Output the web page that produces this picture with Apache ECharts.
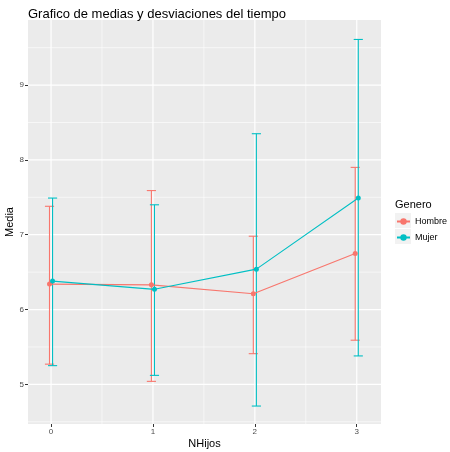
<!DOCTYPE html>
<html lang="es">
<head>
    <meta charset="utf-8">
    <title>Grafico de medias y desviaciones del tiempo</title>
    <script src="https://cdn.jsdelivr.net/npm/echarts@6.0.0/dist/echarts.min.js"></script>
    <style>
        html, body { margin: 0; padding: 0; background: #fff; }
        #main { width: 450px; height: 452px; }
    </style>
</head>
<body>
<div id="main"></div>
<script type="text/javascript">
// datos
var nhijos = [0, 1, 2, 3];
var hombreMedia = [6.34, 6.33, 6.21, 6.75];
var hombreInf   = [5.27, 5.04, 5.41, 5.59];
var hombreSup   = [7.38, 7.59, 6.98, 7.90];
var mujerMedia  = [6.38, 6.27, 6.54, 7.49];
var mujerInf    = [5.25, 5.12, 4.71, 5.38];
var mujerSup    = [7.49, 7.40, 8.35, 9.61];

var xTicks = [0, 1, 2, 3];
var yTicks = [5, 6, 7, 8, 9];
var xMinor = [0.5, 1.5, 2.5];
var yMinor = [4.5, 5.5, 6.5, 7.5, 8.5, 9.5];

var colHombre = '#F8766D';
var colMujer = '#00BFC4';
var dodge = 0.015;
var capWidth = 0.09;
var font = 'Liberation Sans';

var chart = echarts.init(document.getElementById('main'));

function pts(media, off) {
    return nhijos.map(function (x, i) { return [x + off, media[i]]; });
}
function bars(lo, hi, off) {
    return nhijos.map(function (x, i) { return [x + off, lo[i], hi[i]]; });
}

function errorBar(color) {
    return function (params, api) {
        var x = api.value(0);
        var lo = api.coord([x, api.value(1)]);
        var hi = api.coord([x, api.value(2)]);
        var half = api.size([capWidth, 0])[0] / 2;
        var style = { stroke: color, lineWidth: 1.1 };
        return {
            type: 'group',
            children: [
                { type: 'line', shape: { x1: lo[0], y1: lo[1], x2: hi[0], y2: hi[1] }, style: style },
                { type: 'line', shape: { x1: lo[0] - half, y1: lo[1], x2: lo[0] + half, y2: lo[1] }, style: style },
                { type: 'line', shape: { x1: hi[0] - half, y1: hi[1], x2: hi[0] + half, y2: hi[1] }, style: style }
            ]
        };
    };
}

function vLines(width) {
    return function (params, api) {
        var cs = params.coordSys;
        var p = api.coord([api.value(0), api.value(1)]);
        return { type: 'line', silent: true,
            shape: { x1: p[0], y1: cs.y, x2: p[0], y2: cs.y + cs.height },
            style: { stroke: '#FFFFFF', lineWidth: width } };
    };
}
function hLines(width) {
    return function (params, api) {
        var cs = params.coordSys;
        var p = api.coord([api.value(0), api.value(1)]);
        return { type: 'line', silent: true,
            shape: { x1: cs.x, y1: p[1], x2: cs.x + cs.width, y2: p[1] },
            style: { stroke: '#FFFFFF', lineWidth: width } };
    };
}

var option = {
    animation: false,
    textStyle: { fontFamily: font },
    title: [
        {
            text: 'Grafico de medias y desviaciones del tiempo',
            left: 23, top: 3,
            textStyle: { fontSize: 13, fontWeight: 'normal', color: '#000', fontFamily: font }
        },
        {
            text: 'Genero',
            left: 390, top: 194,
            textStyle: { fontSize: 11, fontWeight: 'normal', color: '#000', fontFamily: font }
        }
    ],
    grid: {
        left: 28, right: 69, top: 20, bottom: 28,
        outerBoundsMode: 'none',
        containLabel: false,
        show: true, backgroundColor: '#EBEBEB', borderWidth: 0
    },
    legend: {
        data: ['Hombre', 'Mujer'],
        orient: 'vertical',
        left: 396, top: 217,
        padding: 0,
        itemWidth: 13, itemHeight: 8, itemGap: 7,
        textStyle: { fontSize: 9, color: '#000', fontFamily: font }
    },
    graphic: [
        { type: 'rect', left: 395, top: 213, shape: { width: 16, height: 15 }, style: { fill: '#F2F2F2' }, z: 0 },
        { type: 'rect', left: 395, top: 229, shape: { width: 16, height: 15 }, style: { fill: '#F2F2F2' }, z: 0 }
    ],
    xAxis: {
        type: 'value',
        min: -0.226, max: 3.238,
        name: 'NHijos',
        nameLocation: 'middle',
        nameGap: 14,
        nameMoveOverlap: false,
        nameTextStyle: { fontSize: 11, color: '#000' },
        axisLine: { show: false, onZero: false },
        splitLine: { show: false },
        axisTick: { show: true, customValues: xTicks, length: 3, lineStyle: { color: '#333' } },
        axisLabel: { customValues: xTicks, fontSize: 8, color: '#4D4D4D', margin: 4 }
    },
    yAxis: {
        type: 'value',
        min: 4.47, max: 9.87,
        name: 'Media',
        nameLocation: 'middle',
        nameGap: 13,
        nameMoveOverlap: false,
        nameTextStyle: { fontSize: 11, color: '#000' },
        axisLine: { show: false, onZero: false },
        splitLine: { show: false },
        axisTick: { show: true, customValues: yTicks, length: 3, lineStyle: { color: '#333' } },
        axisLabel: { customValues: yTicks, fontSize: 8, color: '#4D4D4D', margin: 4 }
    },
    series: [
        { type: 'custom', name: 'gx', silent: true, z: 0, renderItem: vLines(0.6),
          data: xMinor.map(function (v) { return [v, 7]; }) },
        { type: 'custom', name: 'gy', silent: true, z: 0, renderItem: hLines(0.6),
          data: yMinor.map(function (v) { return [1, v]; }) },
        { type: 'custom', name: 'gX', silent: true, z: 0, renderItem: vLines(1.2),
          data: xTicks.map(function (v) { return [v, 7]; }) },
        { type: 'custom', name: 'gY', silent: true, z: 0, renderItem: hLines(1.2),
          data: yTicks.map(function (v) { return [1, v]; }) },
        {
            type: 'custom', name: 'eH', z: 3,
            renderItem: errorBar(colHombre),
            encode: { x: 0, y: [1, 2] },
            data: bars(hombreInf, hombreSup, -dodge)
        },
        {
            type: 'custom', name: 'eM', z: 3,
            renderItem: errorBar(colMujer),
            encode: { x: 0, y: [1, 2] },
            data: bars(mujerInf, mujerSup, dodge)
        },
        {
            type: 'line', name: 'Hombre', z: 4,
            data: pts(hombreMedia, -dodge),
            symbol: 'circle', symbolSize: 5,
            itemStyle: { color: colHombre },
            lineStyle: { color: colHombre, width: 1.1 }
        },
        {
            type: 'line', name: 'Mujer', z: 4,
            data: pts(mujerMedia, dodge),
            symbol: 'circle', symbolSize: 5,
            itemStyle: { color: colMujer },
            lineStyle: { color: colMujer, width: 1.1 }
        }
    ]
};

chart.setOption(option);
</script>
</body>
</html>
